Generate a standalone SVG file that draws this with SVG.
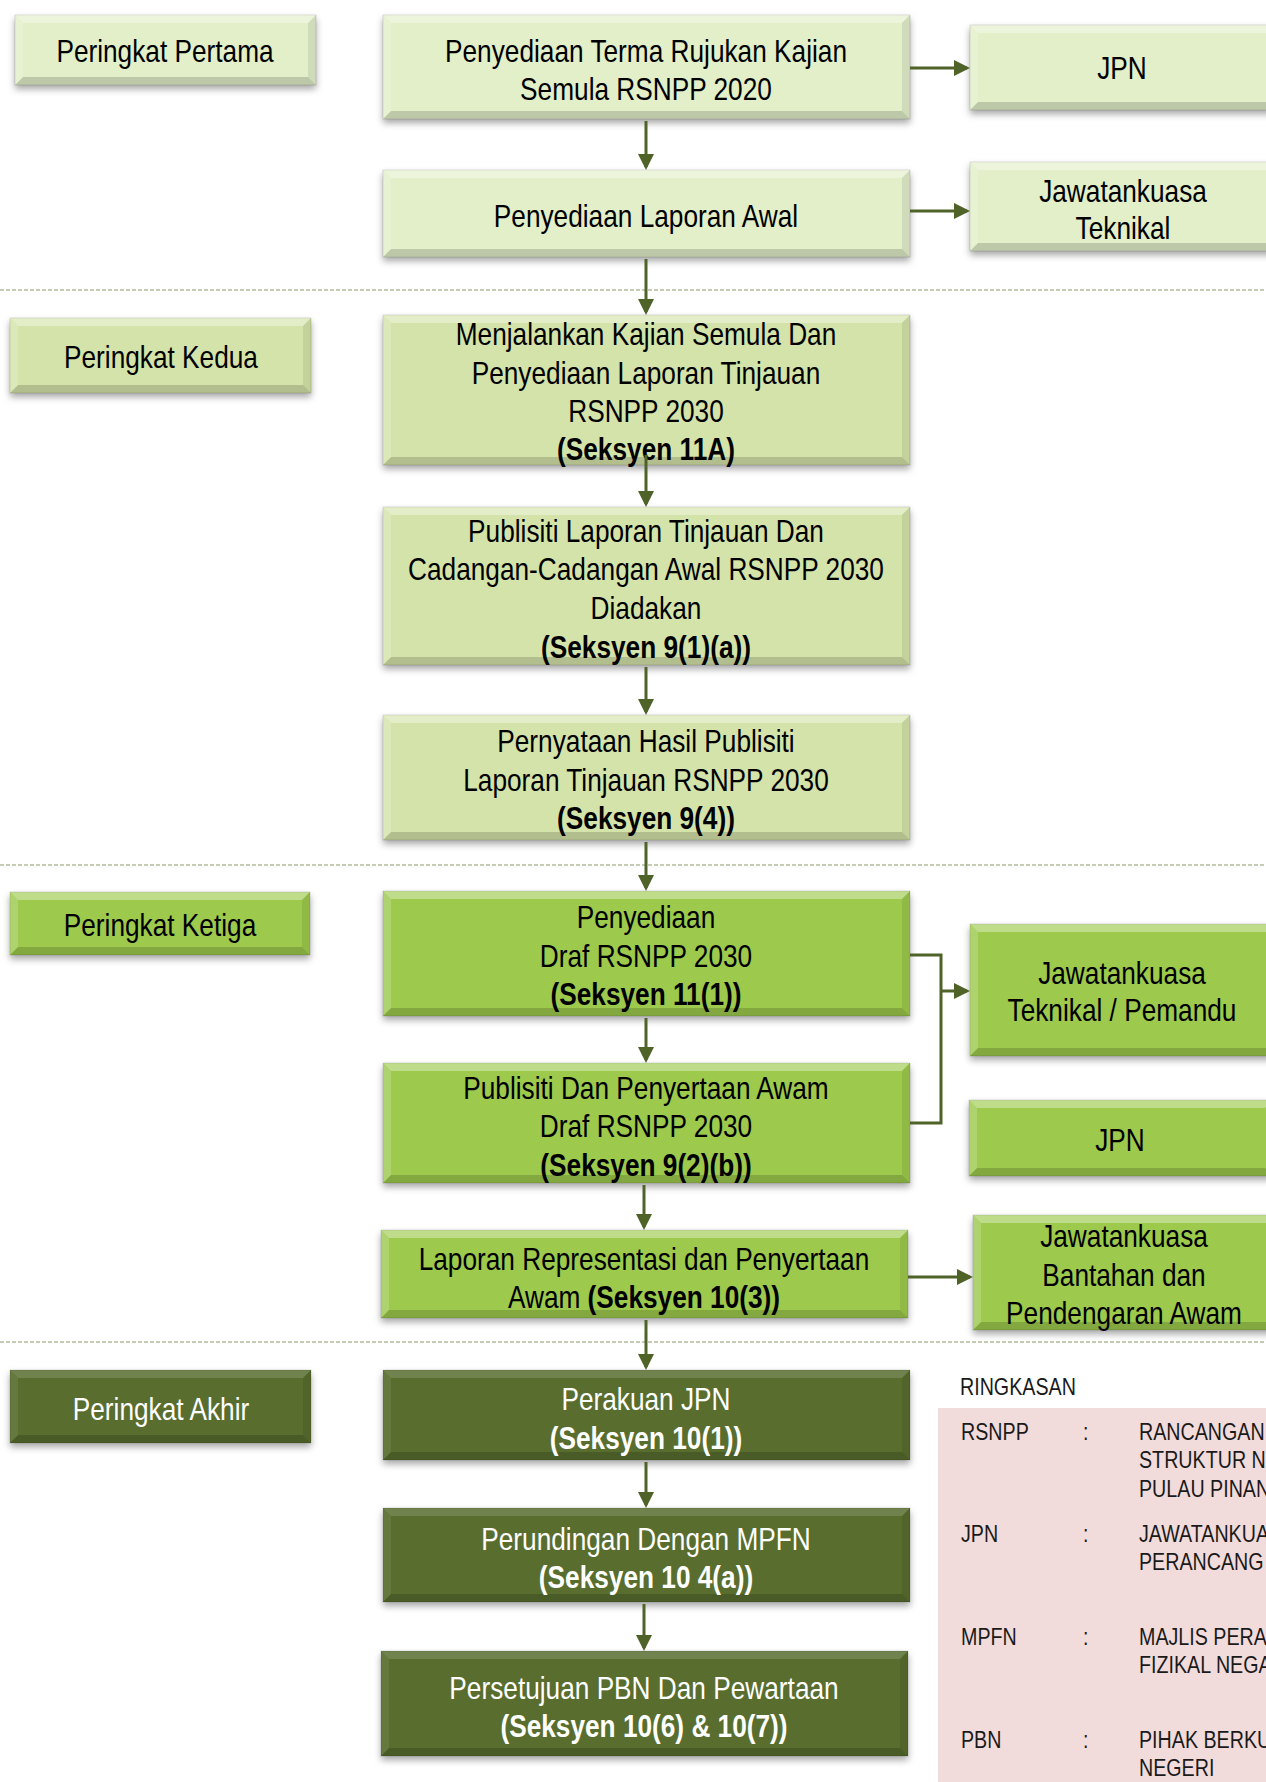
<svg xmlns="http://www.w3.org/2000/svg" width="1266" height="1782" viewBox="0 0 1266 1782">
<defs>
<style>
.t{font-family:"Liberation Sans",Arial,sans-serif;font-size:32px;text-anchor:middle;fill:#000;transform:scale(0.82,1);transform-origin:0 0}
.w{fill:#fff}
.b{font-weight:bold}
.lg{font-family:"Liberation Sans",Arial,sans-serif;font-size:24px;fill:#1a1a1a;transform:scale(0.82,1);transform-origin:0 0}
.p1{fill:#E2EFC9}
.p2{fill:#D4E3A9}
.p3{fill:#9DC94D}
.p4{fill:#586D2D}
.base{filter:url(#sh);stroke:#000;stroke-opacity:.12;stroke-width:1}
.ft{fill:#fff;opacity:.35}
.fl{fill:#fff;opacity:.18}
.fb{fill:#000;opacity:.16}
.fr{fill:#000;opacity:.08}
.d4 .ft{opacity:.15}
.d4 .fl{opacity:.08}
.c{fill:none;stroke:#4F6228;stroke-width:3}
.a{marker-end:url(#ah)}
.dash{fill:none;stroke:#8A9A6A;stroke-width:1.2;stroke-dasharray:4 2}
</style>
<filter id="sh" x="-5%" y="-10%" width="110%" height="135%">
<feDropShadow dx="0" dy="4" stdDeviation="3.5" flood-color="#000" flood-opacity="0.35"/>
</filter>
<marker id="ah" markerUnits="userSpaceOnUse" markerWidth="16" markerHeight="16" refX="13" refY="8" orient="auto">
<path d="M0,0 L16,8 L0,16 z" fill="#4F6228"/>
</marker>
</defs>
<rect width="1266" height="1782" fill="#fff"/>

<g id="dividers">
<path class="dash" d="M0,290 H1266"/>
<path class="dash" d="M0,865 H1266"/>
<path class="dash" d="M0,1342 H1266"/>
</g>

<g id="peringkat-pertama">
<rect class="base p1" x="15" y="15" width="301" height="70"/>
<path class="ft" d="M15,15 h301 l-8,8 h-285 z"/><path class="fb" d="M15,85 h301 l-8,-8 h-285 z"/>
<path class="fl" d="M15,15 l8,8 v54 l-8,8 z"/><path class="fr" d="M316,15 l-8,8 v54 l8,8 z"/>
<text class="t" x="201.22" y="62">Peringkat Pertama</text>
</g>
<g id="peringkat-kedua">
<rect class="base p2" x="10" y="318" width="301" height="75"/>
<path class="ft" d="M10,318 h301 l-8,8 h-285 z"/><path class="fb" d="M10,393 h301 l-8,-8 h-285 z"/>
<path class="fl" d="M10,318 l8,8 v59 l-8,8 z"/><path class="fr" d="M311,318 l-8,8 v59 l8,8 z"/>
<text class="t" x="196.34" y="368">Peringkat Kedua</text>
</g>
<g id="peringkat-ketiga">
<rect class="base p3" x="10" y="892" width="300" height="63"/>
<path class="ft" d="M10,892 h300 l-8,8 h-284 z"/><path class="fb" d="M10,955 h300 l-8,-8 h-284 z"/>
<path class="fl" d="M10,892 l8,8 v47 l-8,8 z"/><path class="fr" d="M310,892 l-8,8 v47 l8,8 z"/>
<text class="t" x="195.12" y="936">Peringkat Ketiga</text>
</g>
<g id="peringkat-akhir" class="d4">
<rect class="base p4" x="10" y="1370" width="301" height="73"/>
<path class="ft" d="M10,1370 h301 l-8,8 h-285 z"/><path class="fb" d="M10,1443 h301 l-8,-8 h-285 z"/>
<path class="fl" d="M10,1370 l8,8 v57 l-8,8 z"/><path class="fr" d="M311,1370 l-8,8 v57 l8,8 z"/>
<text class="t w" x="196.34" y="1420">Peringkat Akhir</text>
</g>

<g id="terma-rujukan">
<rect class="base p1" x="383" y="15" width="527" height="104"/>
<path class="ft" d="M383,15 h527 l-8,8 h-511 z"/><path class="fb" d="M383,119 h527 l-8,-8 h-511 z"/>
<path class="fl" d="M383,15 l8,8 v88 l-8,8 z"/><path class="fr" d="M910,15 l-8,8 v88 l8,8 z"/>
<text class="t" x="787.8" y="62">Penyediaan Terma Rujukan Kajian</text>
<text class="t" x="787.8" y="100">Semula RSNPP 2020</text>
</g>
<g id="laporan-awal">
<rect class="base p1" x="383" y="170" width="527" height="87"/>
<path class="ft" d="M383,170 h527 l-8,8 h-511 z"/><path class="fb" d="M383,257 h527 l-8,-8 h-511 z"/>
<path class="fl" d="M383,170 l8,8 v71 l-8,8 z"/><path class="fr" d="M910,170 l-8,8 v71 l8,8 z"/>
<text class="t" x="787.8" y="227">Penyediaan Laporan Awal</text>
</g>
<g id="kajian-semula">
<rect class="base p2" x="383" y="315" width="527" height="150"/>
<path class="ft" d="M383,315 h527 l-8,8 h-511 z"/><path class="fb" d="M383,465 h527 l-8,-8 h-511 z"/>
<path class="fl" d="M383,315 l8,8 v134 l-8,8 z"/><path class="fr" d="M910,315 l-8,8 v134 l8,8 z"/>
<text class="t" x="787.8" y="345">Menjalankan Kajian Semula Dan</text>
<text class="t" x="787.8" y="384">Penyediaan Laporan Tinjauan</text>
<text class="t" x="787.8" y="422">RSNPP 2030</text>
<text class="t b" x="787.8" y="460">(Seksyen 11A)</text>
</g>
<g id="publisiti-laporan">
<rect class="base p2" x="383" y="507" width="527" height="158"/>
<path class="ft" d="M383,507 h527 l-8,8 h-511 z"/><path class="fb" d="M383,665 h527 l-8,-8 h-511 z"/>
<path class="fl" d="M383,507 l8,8 v142 l-8,8 z"/><path class="fr" d="M910,507 l-8,8 v142 l8,8 z"/>
<text class="t" x="787.8" y="542">Publisiti Laporan Tinjauan Dan</text>
<text class="t" x="787.8" y="580">Cadangan-Cadangan Awal RSNPP 2030</text>
<text class="t" x="787.8" y="619">Diadakan</text>
<text class="t b" x="787.8" y="658">(Seksyen 9(1)(a))</text>
</g>
<g id="pernyataan-hasil">
<rect class="base p2" x="383" y="715" width="527" height="125"/>
<path class="ft" d="M383,715 h527 l-8,8 h-511 z"/><path class="fb" d="M383,840 h527 l-8,-8 h-511 z"/>
<path class="fl" d="M383,715 l8,8 v109 l-8,8 z"/><path class="fr" d="M910,715 l-8,8 v109 l8,8 z"/>
<text class="t" x="787.8" y="752">Pernyataan Hasil Publisiti</text>
<text class="t" x="787.8" y="791">Laporan Tinjauan RSNPP 2030</text>
<text class="t b" x="787.8" y="829">(Seksyen 9(4))</text>
</g>
<g id="draf">
<rect class="base p3" x="383" y="891" width="527" height="125"/>
<path class="ft" d="M383,891 h527 l-8,8 h-511 z"/><path class="fb" d="M383,1016 h527 l-8,-8 h-511 z"/>
<path class="fl" d="M383,891 l8,8 v109 l-8,8 z"/><path class="fr" d="M910,891 l-8,8 v109 l8,8 z"/>
<text class="t" x="787.8" y="928">Penyediaan</text>
<text class="t" x="787.8" y="967">Draf RSNPP 2030</text>
<text class="t b" x="787.8" y="1005">(Seksyen 11(1))</text>
</g>
<g id="publisiti-draf">
<rect class="base p3" x="383" y="1063" width="527" height="120"/>
<path class="ft" d="M383,1063 h527 l-8,8 h-511 z"/><path class="fb" d="M383,1183 h527 l-8,-8 h-511 z"/>
<path class="fl" d="M383,1063 l8,8 v104 l-8,8 z"/><path class="fr" d="M910,1063 l-8,8 v104 l8,8 z"/>
<text class="t" x="787.8" y="1099">Publisiti Dan Penyertaan Awam</text>
<text class="t" x="787.8" y="1137">Draf RSNPP 2030</text>
<text class="t b" x="787.8" y="1176">(Seksyen 9(2)(b))</text>
</g>
<g id="laporan-representasi">
<rect class="base p3" x="381" y="1230" width="527" height="88"/>
<path class="ft" d="M381,1230 h527 l-8,8 h-511 z"/><path class="fb" d="M381,1318 h527 l-8,-8 h-511 z"/>
<path class="fl" d="M381,1230 l8,8 v72 l-8,8 z"/><path class="fr" d="M908,1230 l-8,8 v72 l8,8 z"/>
<text class="t" x="785.37" y="1270">Laporan Representasi dan Penyertaan</text>
<text class="t" x="785.37" y="1308">Awam <tspan class="b">(Seksyen 10(3))</tspan></text>
</g>
<g id="perakuan" class="d4">
<rect class="base p4" x="383" y="1370" width="527" height="90"/>
<path class="ft" d="M383,1370 h527 l-8,8 h-511 z"/><path class="fb" d="M383,1460 h527 l-8,-8 h-511 z"/>
<path class="fl" d="M383,1370 l8,8 v74 l-8,8 z"/><path class="fr" d="M910,1370 l-8,8 v74 l8,8 z"/>
<text class="t w" x="787.8" y="1410">Perakuan JPN</text>
<text class="t w b" x="787.8" y="1449">(Seksyen 10(1))</text>
</g>
<g id="perundingan" class="d4">
<rect class="base p4" x="383" y="1508" width="527" height="94"/>
<path class="ft" d="M383,1508 h527 l-8,8 h-511 z"/><path class="fb" d="M383,1602 h527 l-8,-8 h-511 z"/>
<path class="fl" d="M383,1508 l8,8 v78 l-8,8 z"/><path class="fr" d="M910,1508 l-8,8 v78 l8,8 z"/>
<text class="t w" x="787.8" y="1550">Perundingan Dengan MPFN</text>
<text class="t w b" x="787.8" y="1588">(Seksyen 10 4(a))</text>
</g>
<g id="persetujuan" class="d4">
<rect class="base p4" x="381" y="1651" width="527" height="105"/>
<path class="ft" d="M381,1651 h527 l-8,8 h-511 z"/><path class="fb" d="M381,1756 h527 l-8,-8 h-511 z"/>
<path class="fl" d="M381,1651 l8,8 v89 l-8,8 z"/><path class="fr" d="M908,1651 l-8,8 v89 l8,8 z"/>
<text class="t w" x="785.37" y="1699">Persetujuan PBN Dan Pewartaan</text>
<text class="t w b" x="785.37" y="1737">(Seksyen 10(6) &amp; 10(7))</text>
</g>

<g id="jpn-1">
<rect class="base p1" x="970" y="25" width="304" height="85"/>
<path class="ft" d="M970,25 h304 l-8,8 h-288 z"/><path class="fb" d="M970,110 h304 l-8,-8 h-288 z"/>
<path class="fl" d="M970,25 l8,8 v69 l-8,8 z"/>
<text class="t" x="1368.29" y="79">JPN</text>
</g>
<g id="jawatankuasa-teknikal">
<rect class="base p1" x="970" y="162" width="304" height="89"/>
<path class="ft" d="M970,162 h304 l-8,8 h-288 z"/><path class="fb" d="M970,251 h304 l-8,-8 h-288 z"/>
<path class="fl" d="M970,162 l8,8 v73 l-8,8 z"/>
<text class="t" x="1369.51" y="202">Jawatankuasa</text>
<text class="t" x="1369.51" y="239">Teknikal</text>
</g>
<g id="jawatankuasa-pemandu">
<rect class="base p3" x="970" y="924" width="304" height="132"/>
<path class="ft" d="M970,924 h304 l-8,8 h-288 z"/><path class="fb" d="M970,1056 h304 l-8,-8 h-288 z"/>
<path class="fl" d="M970,924 l8,8 v116 l-8,8 z"/>
<text class="t" x="1368.29" y="984">Jawatankuasa</text>
<text class="t" x="1368.29" y="1021">Teknikal / Pemandu</text>
</g>
<g id="jpn-2">
<rect class="base p3" x="969" y="1100" width="304" height="76"/>
<path class="ft" d="M969,1100 h304 l-8,8 h-288 z"/><path class="fb" d="M969,1176 h304 l-8,-8 h-288 z"/>
<path class="fl" d="M969,1100 l8,8 v60 l-8,8 z"/>
<text class="t" x="1365.85" y="1151">JPN</text>
</g>
<g id="jawatankuasa-bantahan">
<rect class="base p3" x="973" y="1215" width="304" height="115"/>
<path class="ft" d="M973,1215 h304 l-8,8 h-288 z"/><path class="fb" d="M973,1330 h304 l-8,-8 h-288 z"/>
<path class="fl" d="M973,1215 l8,8 v99 l-8,8 z"/>
<text class="t" x="1370.73" y="1247">Jawatankuasa</text>
<text class="t" x="1370.73" y="1286">Bantahan dan</text>
<text class="t" x="1370.73" y="1324">Pendengaran Awam</text>
</g>

<g id="ringkasan">
<rect x="938" y="1408" width="330" height="380" fill="#F2DCDB"/>
<text class="lg" x="1170.73" y="1395">RINGKASAN</text>
<text class="lg" x="1171.95" y="1440">RSNPP</text>
<text class="lg" x="1320.73" y="1440">:</text>
<text class="lg" x="1389.02" y="1440">RANCANGAN</text>
<text class="lg" x="1389.02" y="1468">STRUKTUR N</text>
<text class="lg" x="1389.02" y="1497">PULAU PINAN</text>
<text class="lg" x="1171.95" y="1542">JPN</text>
<text class="lg" x="1320.73" y="1542">:</text>
<text class="lg" x="1389.02" y="1542">JAWATANKUA</text>
<text class="lg" x="1389.02" y="1570">PERANCANG</text>
<text class="lg" x="1171.95" y="1645">MPFN</text>
<text class="lg" x="1320.73" y="1645">:</text>
<text class="lg" x="1389.02" y="1645">MAJLIS PERA</text>
<text class="lg" x="1389.02" y="1673">FIZIKAL NEGA</text>
<text class="lg" x="1171.95" y="1748">PBN</text>
<text class="lg" x="1320.73" y="1748">:</text>
<text class="lg" x="1389.02" y="1748">PIHAK BERKU</text>
<text class="lg" x="1389.02" y="1776">NEGERI</text>
</g>

<g id="connectors">
<path class="c a" d="M646,121 V167"/>
<path class="c a" d="M646,259 V312"/>
<path class="c a" d="M646,455 V504"/>
<path class="c a" d="M646,667 V712"/>
<path class="c a" d="M646,842 V888"/>
<path class="c a" d="M646,1018 V1060"/>
<path class="c a" d="M644,1185 V1227"/>
<path class="c a" d="M646,1320 V1367"/>
<path class="c a" d="M646,1462 V1505"/>
<path class="c a" d="M644,1604 V1648"/>
<path class="c a" d="M910,68 H967"/>
<path class="c a" d="M910,211 H967"/>
<path class="c" d="M910,955 H941 V1123 H910"/>
<path class="c a" d="M941,991 H967"/>
<path class="c a" d="M908,1277 H970"/>
</g>
</svg>
